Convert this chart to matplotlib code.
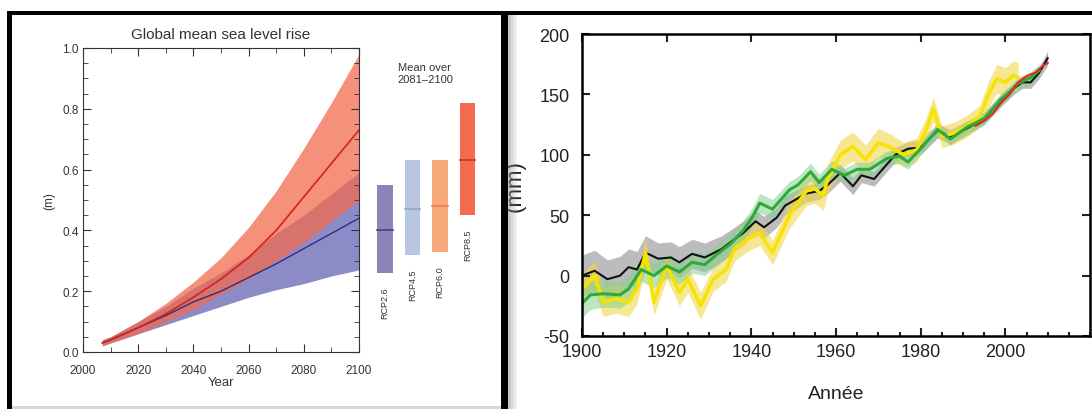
import matplotlib.pyplot as plt
from matplotlib.patches import Rectangle
from matplotlib.ticker import MultipleLocator

plt.rcParams['font.family'] = ['Liberation Sans', 'DejaVu Sans']
plt.rcParams['axes.unicode_minus'] = False

# 1. Projections (panneau gauche)
annees_proj = [2007, 2010, 2020, 2030, 2040, 2050, 2060, 2070, 2080, 2090, 2100]
rcp85_moy = [0.03, 0.04, 0.08, 0.125, 0.18, 0.24, 0.31, 0.40, 0.51, 0.62, 0.73]
rcp85_haut = [0.04, 0.05, 0.10, 0.16, 0.23, 0.31, 0.41, 0.53, 0.67, 0.82, 0.98]
rcp85_bas = [0.02, 0.03, 0.06, 0.10, 0.14, 0.19, 0.24, 0.30, 0.36, 0.43, 0.50]
rcp26_moy = [0.03, 0.04, 0.08, 0.12, 0.165, 0.20, 0.245, 0.29, 0.34, 0.39, 0.44]
rcp26_haut = [0.04, 0.05, 0.10, 0.15, 0.21, 0.26, 0.32, 0.39, 0.45, 0.52, 0.59]
rcp26_bas = [0.02, 0.03, 0.06, 0.09, 0.12, 0.15, 0.18, 0.205, 0.225, 0.25, 0.27]

scenarios = ['RCP2.6', 'RCP4.5', 'RCP6.0', 'RCP8.5']
moy_bas = [0.26, 0.32, 0.33, 0.45]
moy_haut = [0.55, 0.63, 0.63, 0.82]
moy_med = [0.40, 0.47, 0.48, 0.63]
couleurs_barres = ['#8b86ba', '#b9c6e2', '#f8a97c', '#f36c50']
couleurs_med = ['#4a3f7e', '#93a6cc', '#e9824f', '#c9302a']

# 2. Observations (panneau droit)
noir_annees = [1900, 1903, 1906, 1909, 1911, 1913, 1915, 1918, 1921, 1923, 1926, 1929, 1933,
               1936, 1938, 1941, 1943, 1946, 1948, 1950, 1953, 1956, 1958, 1961, 1964, 1966,
               1969, 1971, 1974, 1977, 1980, 1984, 1987, 1991, 1995, 1999, 2002, 2004, 2006,
               2008, 2010]
noir_mm = [0, 4, -3, 0, 7, 5, 19, 14, 15, 11, 18, 15, 22, 30, 35, 45, 40, 48, 58, 62, 68, 70,
           75, 85, 74, 83, 80, 88, 100, 105, 106, 120, 115, 122, 130, 145, 155, 160, 160, 168, 180]
noir_err = [17, 17, 16, 16, 15, 15, 14, 13, 13, 13, 12, 12, 11, 10, 10, 9, 9, 8, 8, 8, 7, 7, 7,
            7, 7, 6, 6, 6, 6, 6, 6, 6, 6, 6, 5, 5, 5, 5, 5, 5, 6]

jaune_annees = [1900, 1903, 1905, 1908, 1911, 1913, 1915, 1917, 1920, 1923, 1925, 1928, 1931,
                1934, 1936, 1939, 1942, 1945, 1949, 1953, 1955, 1957, 1958, 1961, 1964, 1967,
                1970, 1973, 1976, 1979, 1981, 1983, 1985, 1988, 1991, 1994, 1996, 1998, 2000,
                2002, 2003]
jaune_mm = [-11, 0, -22, -19, -22, -11, 19, -22, 8, -14, -3, -25, -3, 5, 22, 30, 35, 19, 50, 70,
            72, 66, 80, 100, 107, 96, 110, 106, 100, 104, 118, 138, 115, 118, 124, 132, 150, 163,
            160, 166, 164]
jaune_err = [12, 12, 12, 12, 12, 12, 12, 11, 11, 11, 11, 11, 10, 10, 10, 10, 10, 10, 11, 12, 12,
             12, 12, 12, 12, 12, 12, 11, 10, 10, 10, 10, 9, 9, 9, 9, 11, 12, 12, 12, 12]

vert_annees = [1900, 1902, 1905, 1909, 1911, 1914, 1917, 1920, 1923, 1926, 1929, 1932, 1935,
               1938, 1940, 1942, 1945, 1949, 1951, 1954, 1956, 1959, 1962, 1965, 1968, 1972,
               1975, 1977, 1980, 1984, 1987, 1991, 1995, 1999, 2001, 2003, 2006, 2008]
vert_mm = [-23, -16, -15, -16, -11, 5, 0, 8, 3, 11, 9, 18, 26, 37, 47, 60, 55, 71, 75, 86, 77, 88,
           83, 88, 88, 97, 99, 94, 105, 121, 113, 123, 130, 146, 152, 159, 164, 170]
vert_err = [12, 12, 11, 11, 11, 10, 10, 10, 10, 9, 9, 9, 9, 8, 8, 8, 8, 7, 7, 7, 7, 7, 6, 6, 6, 6,
            6, 6, 5, 5, 5, 5, 5, 5, 5, 5, 5, 5]

rouge_annees = [1993, 1995, 1997, 1999, 2001, 2003, 2005, 2007, 2009, 2010]
rouge_mm = [124, 128, 134, 143, 150, 160, 165, 168, 174, 176]

W, H = 1092, 410


def px(x0, y0, x1, y1):
    return [x0 / W, 1 - y1 / H, (x1 - x0) / W, (y1 - y0) / H]


fig = plt.figure(figsize=(W / 100, H / 100), dpi=100)

# cadre noir
for x0, y0, x1, y1, c in [(7, 12, W, 16, 'black'), (7, 12, 12, H, 'black'),
                          (501, 12, 508, H, 'black'), (12, 407, 501, 410, '#d8d8d8')]:
    fig.add_artist(Rectangle((x0 / W, 1 - y1 / H), (x1 - x0) / W, (y1 - y0) / H,
                             transform=fig.transFigure, color=c, lw=0))
for i, a in enumerate([0.45, 0.3, 0.15]):
    fig.add_artist(Rectangle(((508 + 3 * i) / W, 0), 3 / W, 1 - 16 / H,
                             transform=fig.transFigure, color='#888888', alpha=a, lw=0))

# --- panneau gauche
ax1 = fig.add_axes(px(83, 49, 359, 353))
ax1.fill_between(annees_proj, rcp26_bas, rcp26_haut, color='#8d8bc7', lw=0)
ax1.fill_between(annees_proj, rcp85_bas, rcp85_haut, color='#f26a4c', alpha=0.74, lw=0)
ax1.plot(annees_proj, rcp26_moy, color='#2f2f7c', lw=1)
ax1.plot(annees_proj, rcp85_moy, color='#d3221f', lw=1.2)
ax1.set_xlim(2000, 2100)
ax1.set_ylim(0, 1)
ax1.xaxis.set_major_locator(MultipleLocator(20))
ax1.xaxis.set_minor_locator(MultipleLocator(10))
ax1.yaxis.set_major_locator(MultipleLocator(0.2))
ax1.yaxis.set_minor_locator(MultipleLocator(0.05))
ax1.tick_params(which='both', direction='in', top=True, right=True, labelsize=8.5,
                labelcolor='#333333', color='#333333')
ax1.tick_params(axis='y', pad=3)
ax1.tick_params(axis='x', pad=9)
ax1.tick_params(which='major', length=6)
ax1.tick_params(which='minor', length=3.5)
for s in ax1.spines.values():
    s.set_color('#333333')
ax1.set_title('Global mean sea level rise', fontsize=11, color='#333333', pad=7)
ax1.set_xlabel('Year', fontsize=9.5, color='#333333', labelpad=0)
ax1.set_ylabel('(m)', fontsize=8.5, color='#333333')
ax1.yaxis.set_label_coords(-0.1, 0.5)

# barres "Mean over 2081-2100"
ax2 = fig.add_axes(px(368.5, 49, 484, 353))
ax2.set_xlim(-0.6, 3.6)
ax2.set_ylim(0, 1)
ax2.axis('off')
for i, nom in enumerate(scenarios):
    ax2.bar(i, moy_haut[i] - moy_bas[i], bottom=moy_bas[i], width=0.56,
            color=couleurs_barres[i], lw=0)
    ax2.plot([i - 0.28, i + 0.28], [moy_med[i], moy_med[i]], color=couleurs_med[i], lw=1.2)
    ax2.text(i, moy_bas[i] - 0.045, nom, rotation=90, ha='center', va='top',
             fontsize=6.5, color='#333333')
ax2.text(1.45, 0.955, 'Mean over\n2081\u20132100', ha='center', va='top', fontsize=8,
         color='#333333', linespacing=1.25)

# --- panneau droit
ax3 = fig.add_axes(px(582, 35, 1090, 337))
ax3.fill_between(noir_annees, [v - e for v, e in zip(noir_mm, noir_err)],
                 [v + e for v, e in zip(noir_mm, noir_err)], color='#a6a6a6', alpha=0.75, lw=0)
ax3.fill_between(jaune_annees, [v - e for v, e in zip(jaune_mm, jaune_err)],
                 [v + e for v, e in zip(jaune_mm, jaune_err)], color='#f2d84a', alpha=0.6, lw=0)
ax3.fill_between(vert_annees, [v - e for v, e in zip(vert_mm, vert_err)],
                 [v + e for v, e in zip(vert_mm, vert_err)], color='#86d08e', alpha=0.55, lw=0)
ax3.plot(noir_annees, noir_mm, color='#111111', lw=1.5)
ax3.plot(jaune_annees, jaune_mm, color='#f5e400', lw=2.5)
ax3.plot(vert_annees, vert_mm, color='#2eaa3c', lw=2.2)
ax3.plot(rouge_annees, rouge_mm, color='#e3261b', lw=1.5)
ax3.set_xlim(1900, 2020)
ax3.set_ylim(-50, 200)
ax3.set_xticks(range(1900, 2001, 20))
ax3.xaxis.set_minor_locator(MultipleLocator(5))
ax3.set_yticks(range(-50, 201, 50))
ax3.tick_params(which='both', direction='in', labelsize=13, colors='#222222', width=1.5)
ax3.tick_params(which='major', top=True, right=True, length=6)
ax3.tick_params(which='minor', length=3)
ax3.tick_params(axis='y', pad=9)
ax3.tick_params(axis='x', pad=5)
for s in ax3.spines.values():
    s.set_linewidth(1.8)
ax3.set_xlabel('Année', fontsize=14, color='#222222', labelpad=18)
ax3.set_ylabel('(mm)', fontsize=16, color='#222222')
ax3.yaxis.set_label_coords(-0.11, 0.5)

fig.savefig('out.png', dpi=100)
